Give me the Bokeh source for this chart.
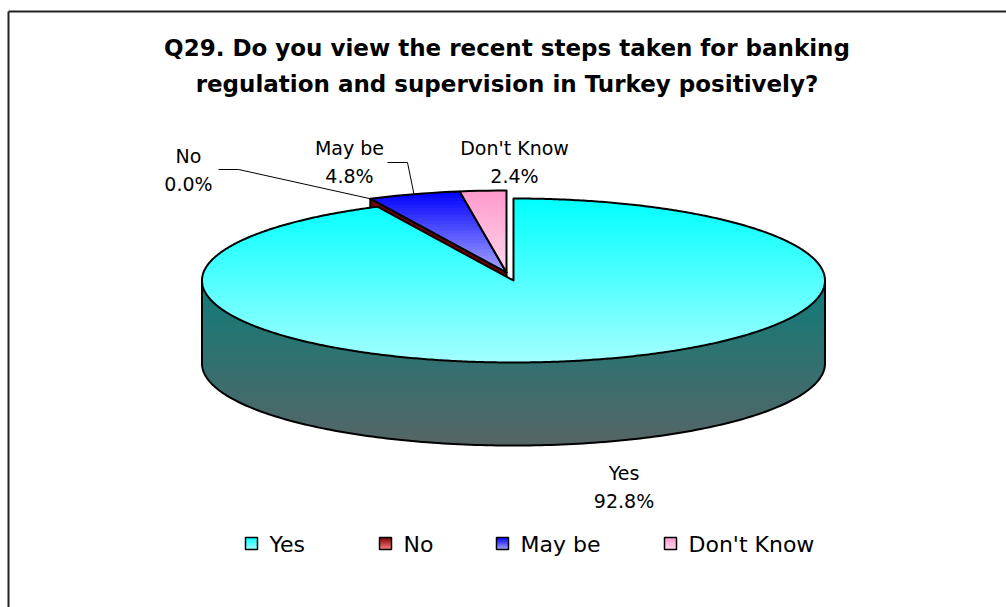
import numpy as np
from bokeh.plotting import figure
from bokeh.models import Range1d
from bokeh.core.properties import value
from bokeh.embed import file_html
from bokeh.resources import INLINE

# ---------------- data ----------------
categories = ["Yes", "No", "May be", "Don't Know"]
shares = [92.8, 0.0, 4.8, 2.4]
title_lines = ["Q29. Do you view the recent steps taken for banking",
               "regulation and supervision in Turkey positively?"]

# ---------------- styles / layout ----------------
top_grad = [("#00FFFF", "#A4FFFF"), ("#7A0000", "#FF8080"),
            ("#0000FF", "#A6A6FF"), ("#FF99CC", "#FFD8EB")]
side_grad = ("#0F7C7A", "#566565")
cut_color = "#7A0000"
explode = [0.1, 0.0, 0.0, 0.0]

W, H = 1006, 607
CX, CY = 506.0, 272.0
RX, RY = 311.5, 82.0
DEPTH = 83.0

title_y = [47, 83]
label_pos = [(623.5, 472), (188, 155), (349, 147), (514, 147)]
label_gap = 28
leaders = {1: [(218, 169), (238, 169)], 2: [(387, 162), (407, 162)]}
legend_left = [245, 379, 496, 664]
legend_y = 543
FONT = "DejaVu Sans"


def hex2rgb(h):
    h = h.lstrip("#")
    return np.array([int(h[i:i + 2], 16) for i in (0, 2, 4)], dtype=float)


def lerp_color(c0, c1, t):
    a, b = hex2rgb(c0), hex2rgb(c1)
    c = a + (b - a) * t
    return "#%02x%02x%02x" % tuple(int(round(v)) for v in c)


def pt(theta, cx, cy, r=1.0):
    t = np.radians(theta)
    return cx + RX * r * np.sin(t), cy - RY * r * np.cos(t)


def clip_half(poly, yv, keep_ge):
    out = []
    n = len(poly)
    if n == 0:
        return out

    def inside(p):
        return p[1] >= yv if keep_ge else p[1] <= yv

    def inter(p, q):
        t = (yv - p[1]) / (q[1] - p[1])
        return (p[0] + t * (q[0] - p[0]), yv)

    for i in range(n):
        cur, prev = poly[i], poly[i - 1]
        ci, pi = inside(cur), inside(prev)
        if ci:
            if not pi:
                out.append(inter(prev, cur))
            out.append(cur)
        elif pi:
            out.append(inter(prev, cur))
    return out


def bands(poly, y0, y1, c0, c1, n=40):
    xs, ys, cols = [], [], []
    for i in range(n):
        ya = y0 + (y1 - y0) * i / n
        yb = y0 + (y1 - y0) * (i + 1) / n + (1.0 if i < n - 1 else 0.0)
        part = clip_half(clip_half(poly, ya, True), yb, False)
        if len(part) >= 3:
            xs.append([p[0] for p in part])
            ys.append([p[1] for p in part])
            cols.append(lerp_color(c0, c1, (i + 0.5) / n))
    return xs, ys, cols


p = figure(width=W, height=H, x_range=Range1d(0, W), y_range=Range1d(H, 0),
           output_backend="svg", toolbar_location=None, min_border=0,
           x_axis_location=None, y_axis_location=None,
           outline_line_color=None, background_fill_color="white")
p.xgrid.visible = False
p.ygrid.visible = False

# chart area border
p.line([8, 8], [H, 11], line_color="#222222", line_width=2)
p.line([8, W], [11, 11], line_color="#222222", line_width=2)

# title
p.text(x=[W / 2 + 3.5] * 2, y=title_y, text=title_lines,
       text_font=value(FONT), text_font_style="bold", text_font_size="23px",
       text_align="center", text_baseline="alphabetic", text_color="black")

# slice angles (clockwise from 12 o'clock)
total = float(sum(shares))
starts, ends = [], []
acc = 0.0
for v in shares:
    starts.append(acc)
    acc += 360.0 * v / total
    ends.append(acc)

centers = []
for i in range(len(shares)):
    mid = 0.5 * (starts[i] + ends[i])
    cx, cy = pt(mid, CX, CY, explode[i])
    centers.append((cx, cy))


def sector(i, npts=200):
    cx, cy = centers[i]
    th = np.linspace(starts[i], ends[i], max(2, int(npts * (ends[i] - starts[i]) / 360) + 2))
    poly = [(cx, cy)] + [pt(t, cx, cy) for t in th]
    return poly


# cut face of the first small slice ("No"), visible between it and the exploded "Yes"
cx1, cy1 = centers[1]
P = pt(starts[1], cx1, cy1)
cut = [(cx1, cy1), P, (P[0], P[1] + DEPTH), (cx1, cy1 + DEPTH)]
p.patch([q[0] for q in cut], [q[1] for q in cut], fill_color=cut_color,
        line_color="black", line_width=2)

# small slices top faces
for i in (2, 3):
    poly = sector(i)
    ys_ = [q[1] for q in poly]
    xs, ys, cols = bands(poly, min(ys_), max(ys_), top_grad[i][0], top_grad[i][1], 25)
    p.patches(xs, ys, fill_color=cols, line_color=None)
    p.patch([q[0] for q in poly], [q[1] for q in poly], fill_color=None,
            line_color="black", line_width=2, line_join="round")

# Yes: side wall (front half)
cx0, cy0 = centers[0]
th = np.linspace(90, 270, 181)
bottom_arc = [(pt(t, cx0, cy0)[0], pt(t, cx0, cy0)[1] + DEPTH) for t in th]
side_poly = bottom_arc + [pt(270, cx0, cy0), pt(90, cx0, cy0)]
xs, ys, cols = bands(side_poly, cy0, cy0 + RY + DEPTH, side_grad[0], side_grad[1], 45)
p.patches(xs, ys, fill_color=cols, line_color=None)
outline = [pt(90, cx0, cy0)] + bottom_arc + [pt(270, cx0, cy0)]
p.line([q[0] for q in outline], [q[1] for q in outline], line_color="black",
       line_width=2, line_join="round")

# Yes: top face
poly = sector(0, 720)
xs, ys, cols = bands(poly, cy0 - RY, cy0 + RY, top_grad[0][0], top_grad[0][1], 50)
p.patches(xs, ys, fill_color=cols, line_color=None)
p.patch([q[0] for q in poly], [q[1] for q in poly], fill_color=None,
        line_color="black", line_width=2, line_join="round")

# leader lines
for i, pts in leaders.items():
    cx, cy = centers[i]
    mid = 0.5 * (starts[i] + ends[i])
    end = pt(mid, cx, cy)
    lx = [q[0] for q in pts] + [end[0]]
    ly = [q[1] for q in pts] + [end[1]]
    p.line(lx, ly, line_color="black", line_width=1)

# data labels
lab_x, lab_y, lab_t = [], [], []
for i, c in enumerate(categories):
    x, y = label_pos[i]
    lab_x += [x, x]
    lab_y += [y, y + label_gap]
    lab_t += [c, f"{shares[i]:.1f}%"]
p.text(x=lab_x, y=lab_y, text=lab_t, text_font=value(FONT), text_font_size="19px",
       text_align="center", text_baseline="alphabetic", text_color="black")

# legend
SQ = 12
for i, c in enumerate(categories):
    x0 = legend_left[i]
    sq = [(x0, legend_y - SQ / 2), (x0 + SQ, legend_y - SQ / 2),
          (x0 + SQ, legend_y + SQ / 2), (x0, legend_y + SQ / 2)]
    xs, ys, cols = bands(sq, legend_y - SQ / 2, legend_y + SQ / 2, top_grad[i][0], top_grad[i][1], 6)
    p.patches(xs, ys, fill_color=cols, line_color=None)
    p.patch([q[0] for q in sq], [q[1] for q in sq], fill_color=None,
            line_color="black", line_width=1.5)
p.text(x=[x + 24 for x in legend_left], y=[legend_y + 1] * len(categories),
       text=categories, text_font=value(FONT), text_font_size="22px",
       text_align="left", text_baseline="alphabetic", text_color="black")

open("out.html", "w").write(file_html(p, INLINE))
